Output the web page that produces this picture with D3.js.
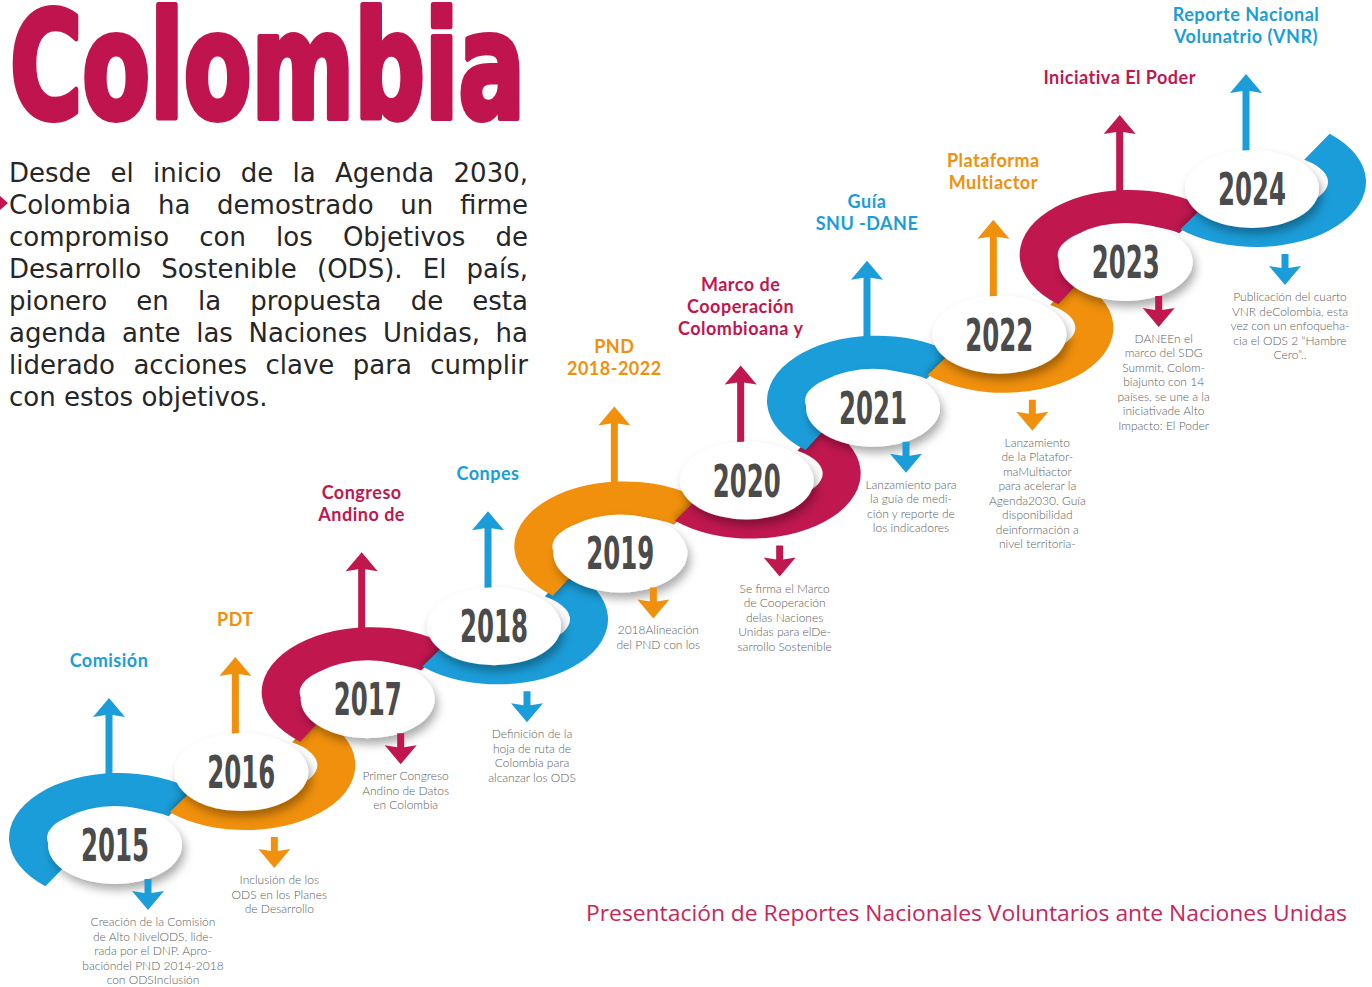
<!DOCTYPE html>
<html>
<head>
<meta charset="utf-8">
<script src="https://cdn.jsdelivr.net/npm/d3@7"></script>
<style>
  html, body { margin: 0; padding: 0; background: #fff; }
  svg { display: block; }
</style>
</head>
<body>
<div id="chart"></div>
<script>
// ---- data ----
const years = [2015, 2016, 2017, 2018, 2019, 2020, 2021, 2022, 2023, 2024];

const titles = [
  ["Comisión"],
  ["PDT"],
  ["Congreso", "Andino de"],
  ["Conpes"],
  ["PND", "2018-2022"],
  ["Marco de", "Cooperación", "Colombioana y"],
  ["Guía", "SNU -DANE"],
  ["Plataforma", "Multiactor"],
  ["Iniciativa El Poder"],
  ["Reporte Nacional", "Volunatrio (VNR)"]
];

const notes = [
  ["Creación de la Comisión", "de Alto NivelODS, lide-", "rada por el DNP. Apro-", "bacióndel PND 2014-2018", "con ODSInclusión"],
  ["Inclusión de los", "ODS en los Planes", "de Desarrollo"],
  ["Primer Congreso", "Andino de Datos", "en Colombia"],
  ["Definición de la", "hoja de ruta de", "Colombia para", "alcanzar los ODS"],
  ["2018Alineación", "del PND con los"],
  ["Se firma el Marco", "de Cooperación", "delas Naciones", "Unidas para elDe-", "sarrollo Sostenible"],
  ["Lanzamiento para", "la guía de medi-", "ción y reporte de", "los indicadores"],
  ["Lanzamiento", "de la Platafor-", "maMultiactor", "para acelerar la", "Agenda2030. Guía", "disponibilidad", "deinformación a", "nivel territoria-"],
  ["DANEEn el", "marco del SDG", "Summit, Colom-", "biajunto con 14", "países, se une a la", "iniciativade Alto", "Impacto: El Poder"],
  ["Publicación del cuarto", "VNR deColombia, esta", "vez con un enfoqueha-", "cia el ODS 2 “Hambre", "Cero”.."]
];

const heading = "Colombia";
const intro = [
  "Desde el inicio de la Agenda 2030,",
  "Colombia ha demostrado un firme",
  "compromiso con los Objetivos de",
  "Desarrollo Sostenible (ODS). El país,",
  "pionero en la propuesta de esta",
  "agenda ante las Naciones Unidas, ha",
  "liderado acciones clave para cumplir",
  "con estos objetivos."
];
const footer = "Presentación de Reportes Nacionales Voluntarios ante Naciones Unidas";

// ---- svg ----
const W = 1372, H = 987;
const svg = d3.select("#chart").append("svg")
  .attr("width", W).attr("height", H);

const defs = svg.append("defs");
const f = defs.append("filter").attr("id", "shadow")
  .attr("x", "-30%").attr("y", "-30%").attr("width", "160%").attr("height", "170%");
f.append("feDropShadow").attr("dx", 3).attr("dy", 6).attr("stdDeviation", 5)
  .attr("flood-color", "#000").attr("flood-opacity", 0.33);
defs.append("filter").attr("id", "blur")
  .attr("x", "-20%").attr("y", "-20%").attr("width", "140%").attr("height", "140%")
  .append("feGaussianBlur").attr("stdDeviation", 5);

// ---- scales ----
const x = d3.scaleLinear().domain([2015, 2024]).range([115, 1252]);
const y = d3.scaleLinear().domain([2015, 2024]).range([845, 189]);
const color = d3.scaleOrdinal().domain(years).range(["#1b9dd9", "#f0900c", "#c0174f"]);

const sans = "Lato, 'Open Sans', sans-serif";
const narrow = "'Liberation Sans Narrow', 'DejaVu Sans Condensed', 'Roboto', sans-serif";

// ---- heading + intro ----
svg.append("text")
  .attr("x", 10).attr("y", 118)
  .attr("textLength", 515).attr("lengthAdjust", "spacingAndGlyphs")
  .style("font-family", narrow).style("font-weight", 700).style("font-size", "148px")
  .attr("fill", "#c0144e").attr("stroke", "#c0144e").attr("stroke-width", 6)
  .attr("stroke-linejoin", "round")
  .text(heading);

svg.append("path")
  .attr("d", "M0,196L8,203L0,210Z")
  .attr("fill", "#c0144e");

const introG = svg.append("g")
  .style("font-family", "'DejaVu Sans', sans-serif").style("font-size", "26px")
  .attr("fill", "#262626");

intro.forEach((line, i) => {
  const t = introG.append("text").attr("x", 9).attr("y", 182 + i * 32).text(line);
  if (i < intro.length - 1) {
    const words = line.split(/\s+/).length;
    const w = t.node().getComputedTextLength();
    t.style("word-spacing", ((519 - w) / (words - 1)) + "px");
  }
});

// ---- arrows ----
function upArrow(ax, tip, base) {
  return `M${ax - 3.5},${base}L${ax - 3.5},${tip + 17}L${ax - 16},${tip + 19}L${ax},${tip}` +
         `L${ax + 16},${tip + 19}L${ax + 3.5},${tip + 17}L${ax + 3.5},${base}Z`;
}
function downArrow(ax, tip) {
  const top = tip - 31;
  return `M${ax - 3.5},${top}L${ax - 3.5},${tip - 17}L${ax - 16},${tip - 19}L${ax},${tip}` +
         `L${ax + 16},${tip - 19}L${ax + 3.5},${tip - 17}L${ax + 3.5},${top}Z`;
}

const upX = d => x(d) - 6;
const upTip = (d, i) => y(d) + (i % 2 ? -115 : -147);
const downX = d => x(d) + 33;
const downTip = (d, i) => y(d) + (i % 2 ? 96 : 65);

svg.append("g").selectAll("path")
  .data(years).join("path")
  .attr("d", (d, i) => upArrow(upX(d), upTip(d, i), y(d) + (i % 2 ? -30 : -55)))
  .attr("fill", d => color(d));

// ---- ribbon rings ----
const R = { ox: 110, oy: 65, ix: 72, iy: 30 };
function pt(cx, cy, rx, ry, t) {
  const a = t * Math.PI / 180;
  return [cx + rx * Math.cos(a), cy + ry * Math.sin(a)];
}
function ring(cx, cy, t0, t1) {
  const sw = t1 > t0 ? 1 : 0;
  const p0 = pt(cx, cy, R.ox, R.oy, t0), p1 = pt(cx, cy, R.ox, R.oy, t1);
  const q1 = pt(cx, cy, R.ix, R.iy, t1), q0 = pt(cx, cy, R.ix, R.iy, t0);
  return `M${p0}A${R.ox},${R.oy} 0 1 ${sw} ${p1}L${q1}A${R.ix},${R.iy} 0 1 ${1 - sw} ${q0}Z`;
}

const n = years.length;
const ringD = (d, i) => {
  const e0 = i === 0 ? 0 : 1.5, e1 = i === n - 1 ? 0 : 1.5;
  return i % 2 === 0
    ? ring(x(d) + 4, y(d) - 7, 132 - e0, 312 + e1)
    : ring(x(d) + 4, y(d) - 7, 132 + e0, -48 - e1);
};

// clip paths so each ring can shade the end of the one before it
defs.selectAll("clipPath")
  .data(years).join("clipPath")
  .attr("id", (d, i) => "ring-clip-" + i)
  .append("path").attr("d", ringD);

const ringsG = svg.append("g");
years.forEach((d, i) => {
  ringsG.append("path").attr("d", ringD(d, i)).attr("fill", color(d));
  if (i < n - 1) {
    ringsG.append("g").attr("clip-path", `url(#ring-clip-${i})`)
      .append("path")
      .attr("d", ringD(years[i + 1], i + 1))
      .attr("fill", "#000").attr("opacity", 0.45)
      .attr("filter", "url(#blur)");
  }
});

// ---- year labels ----
const labels = svg.append("g").selectAll("g")
  .data(years).join("g")
  .attr("transform", d => `translate(${x(d)},${y(d)})`);

labels.append("ellipse")
  .attr("rx", 67).attr("ry", 39)
  .attr("fill", "#fff")
  .attr("filter", "url(#shadow)");

labels.append("text")
  .attr("y", 16)
  .attr("text-anchor", "middle")
  .attr("textLength", 68).attr("lengthAdjust", "spacingAndGlyphs")
  .style("font-family", narrow).style("font-weight", 700).style("font-size", "44px")
  .attr("fill", "#4b4b4b")
  .text(d => d);

// ---- down arrows ----
svg.append("g").selectAll("path")
  .data(years).join("path")
  .attr("d", (d, i) => downArrow(downX(d), downTip(d, i)))
  .attr("fill", d => color(d));

// ---- event titles ----
svg.append("g").selectAll("text")
  .data(years).join("text")
  .attr("text-anchor", "middle")
  .style("font-family", sans).style("font-weight", 700).style("font-size", "18px")
  .style("letter-spacing", "0.5px")
  .attr("fill", d => color(d))
  .each(function (d, i) {
    const lines = titles[i];
    const lastY = upTip(d, i) - 31;
    d3.select(this).selectAll("tspan")
      .data(lines).join("tspan")
      .attr("x", upX(d))
      .attr("y", (l, k) => lastY - (lines.length - 1 - k) * 22)
      .text(l => l);
  });

// ---- notes ----
svg.append("g").selectAll("text")
  .data(years).join("text")
  .attr("text-anchor", "middle")
  .style("font-family", sans).style("font-weight", 300).style("font-size", "12px")
  .attr("fill", "#5e5e5e")
  .each(function (d, i) {
    const firstY = downTip(d, i) + 16;
    d3.select(this).selectAll("tspan")
      .data(notes[i]).join("tspan")
      .attr("x", downX(d) + 5)
      .attr("y", (l, k) => firstY + k * 14.5)
      .text(l => l);
  });

// ---- footer ----
svg.append("text")
  .attr("x", 586).attr("y", 921)
  .attr("textLength", 761).attr("lengthAdjust", "spacingAndGlyphs")
  .style("font-family", "'Open Sans', sans-serif").style("font-size", "22px")
  .attr("fill", "#c8265a")
  .text(footer);
</script>
</body>
</html>
